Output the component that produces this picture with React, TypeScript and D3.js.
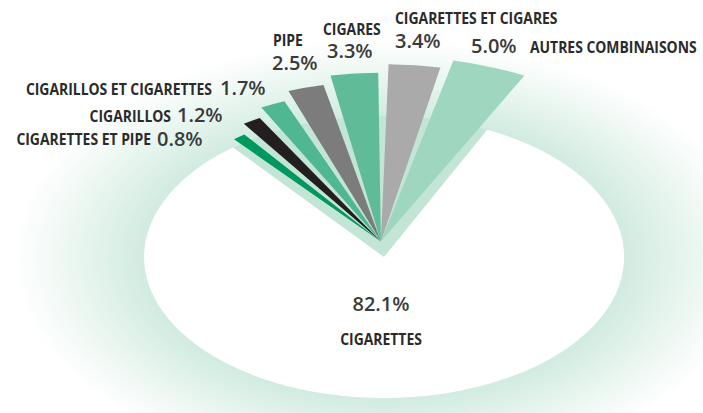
import React from 'react';
import * as d3 from 'd3';

// ---- data ----
const CATEGORIES = [
  'CIGARETTES ET PIPE',
  'CIGARILLOS',
  'CIGARILLOS ET CIGARETTES',
  'PIPE',
  'CIGARES',
  'CIGARETTES ET CIGARES',
  'AUTRES COMBINAISONS',
  'CIGARETTES',
];
const VALUES = [0.8, 1.2, 1.7, 2.5, 3.3, 3.4, 5.0, 82.1];
const COLORS = ['#00985f', '#231f20', '#4fb791', '#7c7c7c', '#5fbb98', '#aaaaaa', '#9fd6c0', '#ffffff'];

// ---- layout ----
const W = 703;
const H = 413;
const CX = 384;
const CY = 257;
const RX = 240;
const RY = 141;
const DEG = Math.PI / 180;
const START = -39 * DEG;
const FAN_PAD = 0.07;
const EXPLODE = 0.11;
const NAME_SQUEEZE = 0.87;

type Pos = { x: number; y: number; anchor: 'start' | 'middle' | 'end' };
const LABEL_LAYOUT: { name: Pos; value: Pos }[] = [
  { name: { x: 151, y: 145, anchor: 'end' }, value: { x: 157, y: 145.5, anchor: 'start' } },
  { name: { x: 171, y: 121.5, anchor: 'end' }, value: { x: 177, y: 121.5, anchor: 'start' } },
  { name: { x: 212, y: 95, anchor: 'end' }, value: { x: 220, y: 95, anchor: 'start' } },
  { name: { x: 273, y: 46, anchor: 'start' }, value: { x: 272, y: 70, anchor: 'start' } },
  { name: { x: 323, y: 35, anchor: 'start' }, value: { x: 327, y: 58, anchor: 'start' } },
  { name: { x: 395, y: 24, anchor: 'start' }, value: { x: 395, y: 48, anchor: 'start' } },
  { name: { x: 530, y: 53, anchor: 'start' }, value: { x: 471, y: 53, anchor: 'start' } },
  { name: { x: 381, y: 345, anchor: 'middle' }, value: { x: 381, y: 311, anchor: 'middle' } },
];

const fmt = (v: number) => d3.format('.1f')(v) + '%';

export default function App() {
  const n = VALUES.length;
  const all = d3.pie<number>().sort(null).startAngle(START).endAngle(START + 2 * Math.PI)(VALUES);
  const small = VALUES.slice(0, n - 1);
  const g0 = all[0].startAngle;
  const g1 = all[n - 2].endAngle;
  const main = all[n - 1];

  const fan = d3
    .pie<number>()
    .sort(null)
    .startAngle(g0 - FAN_PAD * 0.6)
    .endAngle(g1 + FAN_PAD * 0.6)
    .padAngle(FAN_PAD)(small);
  const rScale = d3.scaleLinear().domain([0, small.length - 1]).range([0.95, 1.32]);

  const mid = (g0 + g1) / 2;
  const tx = Math.sin(mid) * EXPLODE * RX;
  const ty = -Math.cos(mid) * EXPLODE * RY;

  const unitArc = d3.arc<any>().innerRadius(0);
  const mintWedge = unitArc({ startAngle: g0, endAngle: g1, outerRadius: 1, padAngle: 0 } as any);
  const mainPath = unitArc({ startAngle: main.startAngle, endAngle: main.endAngle, outerRadius: 1, padAngle: 0 } as any);
  const fanArc = d3.arc<any>().innerRadius(0).padRadius(0.6);

  return (
    <svg width={W} height={H} style={{ position: 'absolute', left: 0, top: 0 }}>
      <defs>
        <radialGradient id="glow">
          <stop offset="0.6" stopColor="#cfeadf" />
          <stop offset="0.66" stopColor="#d3ece2" />
          <stop offset="0.76" stopColor="#e1f2ea" />
          <stop offset="0.88" stopColor="#f1f9f5" />
          <stop offset="1" stopColor="#ffffff" />
        </radialGradient>
      </defs>
      <rect width={W} height={H} fill="#ffffff" />
      <ellipse cx={CX} cy={CY} rx={RX * 1.55} ry={RY * 1.55} fill="url(#glow)" />
      <g transform={`translate(${CX},${CY}) scale(${RX},${RY})`}>
        <path d={mintWedge || ''} fill="#c3e5d6" />
        <path d={mainPath || ''} fill={COLORS[n - 1]} />
      </g>
      <g transform={`translate(${CX + tx},${CY + ty}) scale(${RX},${RY})`}>
        {fan.map((d, i) => (
          <path key={i} d={fanArc.outerRadius(rScale(i))(d) || ''} fill={COLORS[i]} />
        ))}
      </g>
      {CATEGORIES.map((c, i) => {
        const L = LABEL_LAYOUT[i];
        return (
          <g key={c}>
            <g transform={`translate(${L.name.x},${L.name.y}) scale(${NAME_SQUEEZE},1)`}>
              <text
                x={0}
                y={0}
                textAnchor={L.name.anchor}
                fontFamily="'Open Sans', sans-serif"
                fontWeight="bold"
                fontSize={16}
                fill="#2a2a2a"
              >
                {c}
              </text>
            </g>
            <text
              x={L.value.x}
              y={L.value.y}
              textAnchor={L.value.anchor}
              fontFamily="'Open Sans', sans-serif"
              fontWeight={600}
              fontSize={20}
              fill="#3a3a3a"
            >
              {fmt(VALUES[i])}
            </text>
          </g>
        );
      })}
    </svg>
  );
}
